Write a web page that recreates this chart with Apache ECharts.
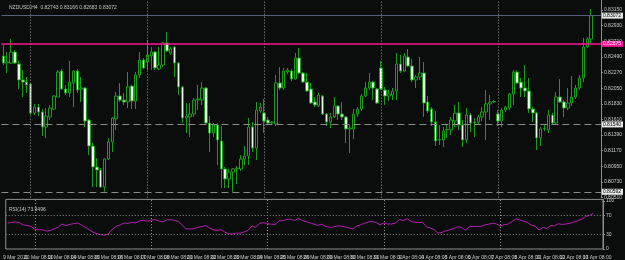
<!DOCTYPE html>
<html>
<head>
<meta charset="utf-8">
<style>
  html, body { margin: 0; padding: 0; background: #0a0d0b; }
  #chart { width: 625px; height: 260px; }
</style>
<script src="https://cdn.jsdelivr.net/npm/echarts@6/dist/echarts.min.js"></script>
</head>
<body>
<div id="chart"></div>
<script>
// NZDUSD H4 candles
const opens = [
  0.82504, 0.82405, 0.82405, 0.82560, 0.82391, 0.82166, 0.82137, 0.82109, 0.81701, 0.81785,
  0.81715, 0.81504, 0.81645, 0.81757, 0.81926, 0.82292, 0.82039, 0.81983, 0.82123, 0.82292,
  0.82039, 0.82053, 0.81602, 0.81236, 0.80941, 0.80898, 0.80659, 0.81053, 0.81293, 0.81617,
  0.81940, 0.81884, 0.81856, 0.82081, 0.81870, 0.82236, 0.82447, 0.82419, 0.82504, 0.82560,
  0.82321, 0.82377, 0.82687, 0.82546, 0.82630, 0.82405, 0.82067, 0.81631, 0.81645, 0.81687,
  0.81884, 0.81884, 0.82053, 0.81560, 0.81419, 0.81532, 0.81307, 0.80913, 0.80772, 0.80870,
  0.80913, 0.80913, 0.81053, 0.81096, 0.81504, 0.81208, 0.81729, 0.81701, 0.81602, 0.81560,
  0.81546, 0.82123, 0.82053, 0.82278, 0.82292, 0.82180, 0.82475, 0.82264, 0.82137, 0.82039,
  0.81856, 0.81800, 0.81940, 0.81687, 0.81574, 0.81645, 0.81800, 0.81687, 0.81645, 0.81476,
  0.81476, 0.81687, 0.81757, 0.81940, 0.82053, 0.82137, 0.82039, 0.82335, 0.82025, 0.81940,
  0.81954, 0.82011, 0.82391, 0.82292, 0.82489, 0.82363, 0.82166, 0.82208, 0.82264, 0.81856,
  0.81757, 0.81574, 0.81321, 0.81321, 0.81462, 0.81462, 0.81588, 0.81701, 0.81532, 0.81321,
  0.81673, 0.81574, 0.81574, 0.81645, 0.81715, 0.81828, 0.81856, 0.81687, 0.81588, 0.81743,
  0.81771, 0.81969, 0.82278, 0.82137, 0.82053, 0.82011, 0.81757, 0.81701, 0.81349, 0.81476,
  0.81462, 0.81673, 0.81560, 0.81926, 0.81856, 0.81771, 0.81842, 0.81926, 0.82053, 0.82194,
  0.82630, 0.82743
];
const closes = [
  0.82405, 0.82419, 0.82560, 0.82405, 0.82166, 0.82137, 0.82095, 0.81701, 0.81785, 0.81715,
  0.81504, 0.81659, 0.81771, 0.81940, 0.82278, 0.82039, 0.81983, 0.82137, 0.82292, 0.82025,
  0.82053, 0.81588, 0.81236, 0.80941, 0.80898, 0.80659, 0.81053, 0.81293, 0.81631, 0.81940,
  0.81884, 0.81856, 0.82067, 0.81870, 0.82236, 0.82447, 0.82335, 0.82518, 0.82560, 0.82335,
  0.82377, 0.82687, 0.82574, 0.82602, 0.82405, 0.82067, 0.81631, 0.81659, 0.81687, 0.81884,
  0.81898, 0.82053, 0.81560, 0.81419, 0.81532, 0.81321, 0.80913, 0.80772, 0.80870, 0.80913,
  0.80927, 0.81053, 0.81096, 0.81504, 0.81208, 0.81743, 0.81785, 0.81588, 0.81560, 0.81574,
  0.82123, 0.82053, 0.82292, 0.82306, 0.82180, 0.82475, 0.82264, 0.82137, 0.82011, 0.81842,
  0.81814, 0.81954, 0.81687, 0.81574, 0.81645, 0.81800, 0.81687, 0.81645, 0.81476, 0.81490,
  0.81687, 0.81757, 0.81940, 0.82053, 0.82137, 0.82053, 0.81842, 0.82039, 0.81940, 0.81969,
  0.82011, 0.82391, 0.82292, 0.82504, 0.82363, 0.82166, 0.82208, 0.82264, 0.81842, 0.81729,
  0.81574, 0.81307, 0.81328, 0.81448, 0.81469, 0.81602, 0.81701, 0.81532, 0.81321, 0.81673,
  0.81560, 0.81567, 0.81645, 0.81715, 0.81828, 0.81856, 0.81863, 0.81588, 0.81743, 0.81785,
  0.81969, 0.82278, 0.82123, 0.82053, 0.82011, 0.81757, 0.81701, 0.81349, 0.81476, 0.81483,
  0.81673, 0.81560, 0.81926, 0.81856, 0.81771, 0.81842, 0.81926, 0.82053, 0.82194, 0.82630,
  0.82743, 0.83072
];
const lows = [
  0.82377, 0.82264, 0.82391, 0.82391, 0.82039, 0.81926, 0.81983, 0.81673, 0.81673, 0.81659,
  0.81377, 0.81349, 0.81602, 0.81743, 0.81926, 0.82025, 0.81954, 0.81926, 0.81785, 0.81983,
  0.81856, 0.81504, 0.81110, 0.80659, 0.80659, 0.80645, 0.80592, 0.81039, 0.81152, 0.81462,
  0.81856, 0.81814, 0.81771, 0.81757, 0.81757, 0.82194, 0.82321, 0.82306, 0.82306, 0.82306,
  0.82306, 0.82349, 0.82560, 0.82518, 0.82208, 0.81954, 0.81560, 0.81419, 0.81363, 0.81645,
  0.81743, 0.81814, 0.81532, 0.81152, 0.81363, 0.80969, 0.80645, 0.80645, 0.80645, 0.80592,
  0.80701, 0.80884, 0.80969, 0.80969, 0.81152, 0.81039, 0.81701, 0.81419, 0.81546, 0.81532,
  0.81518, 0.82025, 0.82025, 0.82250, 0.82152, 0.82166, 0.82250, 0.82123, 0.81997, 0.81828,
  0.81785, 0.81785, 0.81673, 0.81518, 0.81490, 0.81631, 0.81602, 0.81602, 0.81279, 0.81138,
  0.81335, 0.81645, 0.81729, 0.81926, 0.82025, 0.81884, 0.81828, 0.82025, 0.81814, 0.81870,
  0.81884, 0.81884, 0.82264, 0.82278, 0.82349, 0.82137, 0.82053, 0.82166, 0.81645, 0.81701,
  0.81518, 0.81236, 0.81250, 0.81222, 0.81349, 0.81391, 0.81504, 0.81462, 0.81222, 0.81279,
  0.81433, 0.81363, 0.81546, 0.81588, 0.81321, 0.81602, 0.81842, 0.81518, 0.81504, 0.81715,
  0.81743, 0.81814, 0.82109, 0.81926, 0.81926, 0.81701, 0.81574, 0.81180, 0.81236, 0.81448,
  0.81419, 0.81546, 0.81532, 0.81842, 0.81645, 0.81743, 0.81800, 0.81898, 0.82025, 0.82137,
  0.82616, 0.82683
];
const highs = [
  0.82658, 0.82560, 0.82743, 0.82588, 0.82433, 0.82306, 0.82208, 0.82123, 0.81828, 0.81828,
  0.81757, 0.81771, 0.81814, 0.81954, 0.82306, 0.82321, 0.82095, 0.82433, 0.82306, 0.82321,
  0.82208, 0.82067, 0.81617, 0.81279, 0.81067, 0.80927, 0.81067, 0.81349, 0.81645, 0.81997,
  0.82123, 0.81983, 0.82278, 0.82095, 0.82278, 0.82560, 0.82475, 0.82729, 0.82630, 0.82574,
  0.82630, 0.82701, 0.82841, 0.82630, 0.82644, 0.82419, 0.82081, 0.81842, 0.81842, 0.81912,
  0.82095, 0.82137, 0.82067, 0.81659, 0.81560, 0.81560, 0.81518, 0.80941, 0.80913, 0.80927,
  0.80955, 0.81110, 0.81236, 0.81631, 0.81574, 0.81856, 0.81842, 0.81898, 0.81645, 0.81588,
  0.82236, 0.82349, 0.82335, 0.82335, 0.82321, 0.82546, 0.82616, 0.82278, 0.82264, 0.82123,
  0.81926, 0.81983, 0.81954, 0.81701, 0.81701, 0.81926, 0.81814, 0.81856, 0.81659, 0.81532,
  0.81757, 0.81785, 0.81969, 0.82137, 0.82264, 0.82152, 0.82053, 0.82433, 0.82067, 0.82025,
  0.82053, 0.82546, 0.82518, 0.82546, 0.82602, 0.82461, 0.82236, 0.82489, 0.82419, 0.81940,
  0.81785, 0.81729, 0.81532, 0.81504, 0.81546, 0.81645, 0.81814, 0.81856, 0.81602, 0.81771,
  0.81701, 0.81631, 0.81673, 0.81785, 0.82025, 0.81954, 0.81884, 0.81743, 0.81771, 0.81800,
  0.81983, 0.82306, 0.82306, 0.82194, 0.82377, 0.82194, 0.81785, 0.81715, 0.81504, 0.81546,
  0.81743, 0.81701, 0.81997, 0.82180, 0.81884, 0.82053, 0.82222, 0.82095, 0.82236, 0.82757,
  0.82771, 0.83166
];
// RSI(14)
const rsi = [
  54, 55, 56, 55, 50, 49, 47, 41, 40, 40,
  37, 38.5, 42, 45, 52, 48.5, 51, 52.5, 54, 50,
  45, 40, 35, 32, 30, 28.5, 32, 41, 47, 50,
  54, 53, 55.5, 54, 58.5, 60, 57.5, 60, 61, 58,
  56, 60.5, 61, 59.5, 57, 50, 42, 41.5, 42.5, 44.8,
  46.6, 48.5, 44, 40, 38.7, 40, 35, 32, 31, 33,
  33, 35.5, 38.7, 48, 45, 53.5, 54.5, 52.5, 51.5, 51,
  58.5, 59, 61.5, 62, 59, 63.5, 59, 56.5, 54, 51.5,
  49, 51.5, 47, 45, 45.5, 48, 47.5, 46, 43.5, 41.7,
  47.5, 50.5, 53.5, 56, 57.7, 55, 50, 54, 52, 52,
  54, 61, 59, 63, 57, 55.5, 55, 55.5, 45.5, 43.5,
  40, 33, 34.5, 38, 40, 42.5, 46, 45, 39, 46,
  47, 46.6, 47, 49.8, 51.5, 53.5, 52, 48, 50.5, 51.6,
  57, 62.5, 60.5, 58, 55, 49.8, 47, 39.5, 44.8, 42.5,
  48.5, 48, 52.5, 51, 52, 53.5, 56, 59, 61.5, 67.5,
  70, 73.9496
];

const priceTicks = [0.80510, 0.80730, 0.80950, 0.81170, 0.81390, 0.81610, 0.81830,
  0.82050, 0.82270, 0.82490, 0.82710, 0.82930, 0.83150];
const rsiTicks = [0, 30, 70, 100];
const rsiLevels = [30, 70];
const bidPrice = 0.83072;
const magentaLevel = 0.82675;
const dashedLevels = [0.81540, 0.80592];
const separatorBars = [7, 37, 67, 97, 127];
const timeLabels = ['9 Mar 2011', '10 Mar 08:00', '11 Mar 08:00', '14 Mar 08:00', '15 Mar 08:00',
  '16 Mar 08:00', '17 Mar 08:00', '18 Mar 08:00', '21 Mar 08:00', '22 Mar 08:00', '23 Mar 08:00',
  '24 Mar 08:00', '25 Mar 08:00', '28 Mar 08:00', '29 Mar 08:00', '30 Mar 08:00', '31 Mar 08:00',
  '1 Apr 08:00', '4 Apr 08:00', '5 Apr 08:00', '6 Apr 08:00', '7 Apr 08:00', '8 Apr 08:00',
  '11 Apr 08:00', '12 Apr 08:00', '13 Apr 08:00'];

const emptyBars = 2; // MT4 chart shift on the right
const categories = opens.map((_, i) => i);
for (let k = 0; k < emptyBars; k++) categories.push(opens.length + k);

const candles = opens.map((o, i) => [o, closes[i], lows[i], highs[i]]);

const FONT = 'Liberation Sans';
const AXIS = '#8e8e8e';
const TXT = '#c8c8c8';
const GREEN = '#1c9a1c';

function levelLabel(bg, fg) {
  return {
    show: true, position: 'end', distance: 1,
    formatter: p => p.value.toFixed(5),
    fontSize: 5, fontFamily: FONT, color: fg,
    backgroundColor: bg, padding: [1, 2, 0, 1]
  };
}
const dotted = { color: '#9a9a9a', type: [1, 2], width: 1 };

const chart = echarts.init(document.getElementById('chart'), null, { renderer: 'canvas' });
chart.setOption({
  backgroundColor: '#0a0d0b',
  animation: false,
  title: [
    { text: 'NZDUSD,H4  0.82743 0.83166 0.82683 0.83072', left: 4, top: 0,
      textStyle: { fontSize: 5, fontWeight: 'normal', color: TXT, fontFamily: FONT } },
    { text: 'RSI(14) 73.9496', left: 4, top: 202,
      textStyle: { fontSize: 5, fontWeight: 'normal', color: TXT, fontFamily: FONT } }
  ],
  grid: [
    { left: 1.4, right: 22, top: 0, bottom: 62.4 },
    { left: 1.4, right: 22, top: 199.4, bottom: 4.7, show: true,
      borderColor: AXIS, borderWidth: 1, backgroundColor: 'transparent' }
  ],
  xAxis: [
    { type: 'category', gridIndex: 0, data: categories, boundaryGap: true, show: false },
    { type: 'category', gridIndex: 1, data: categories, boundaryGap: true,
      axisLine: { show: false }, axisTick: { show: false }, splitLine: { show: false },
      axisLabel: {
        interval: 0, margin: 6, fontSize: 5, fontFamily: FONT, color: TXT,
        formatter: (v, i) => (i % 6 === 2 ? (timeLabels[Math.floor(i / 6)] || '') : '')
      } }
  ],
  yAxis: [
    { type: 'value', gridIndex: 0, position: 'right', min: 0.80510, max: 0.83292,
      axisLine: { show: true, lineStyle: { color: AXIS } },
      axisTick: { show: true, length: 2, lineStyle: { color: AXIS }, customValues: priceTicks },
      axisLabel: { fontSize: 5, fontFamily: FONT, color: TXT, margin: 3,
        customValues: priceTicks, formatter: v => v.toFixed(5) },
      splitLine: { show: false } },
    { type: 'value', gridIndex: 1, position: 'right', min: 0, max: 103,
      axisLine: { show: true, lineStyle: { color: AXIS } },
      axisTick: { show: true, length: 2, lineStyle: { color: AXIS }, customValues: rsiTicks },
      axisLabel: { fontSize: 5, fontFamily: FONT, color: TXT, margin: 3, customValues: rsiTicks },
      splitLine: { show: false } }
  ],
  series: [
    {
      type: 'candlestick', xAxisIndex: 0, yAxisIndex: 0,
      data: candles, barWidth: 3,
      itemStyle: {
        color: '#0a0d0b', color0: '#e4ffe4',
        borderColor: GREEN, borderColor0: GREEN, borderWidth: 1
      }
    },
    {
      // carrier for the chart's horizontal levels and week separators
      name: 'levels', type: 'line', xAxisIndex: 0, yAxisIndex: 0, data: [],
      markLine: {
        silent: true, symbol: 'none', animation: false, precision: 5,
        data: [
          ...separatorBars.map(b => ({ xAxis: b, label: { show: false }, lineStyle: dotted })),
          { yAxis: bidPrice, lineStyle: { color: '#56607a', type: 'solid', width: 1 },
            label: levelLabel('#e8e8e8', '#000') },
          ...dashedLevels.map(v => ({ yAxis: v,
            lineStyle: { color: '#8a8a8a', type: [7, 4], width: 1 },
            label: levelLabel('#e8e8e8', '#000') })),
          { yAxis: magentaLevel, lineStyle: { color: '#ff1493', type: 'solid', width: 1.5 },
            label: levelLabel('#ff1493', '#ffffff') }
        ]
      }
    },
    {
      type: 'line', xAxisIndex: 1, yAxisIndex: 1, data: rsi,
      symbol: 'none', lineStyle: { color: '#b41cb4', width: 1 },
      markLine: {
        silent: true, symbol: 'none', animation: false, label: { show: false },
        data: [
          ...separatorBars.map(b => ({ xAxis: b, lineStyle: dotted })),
          ...rsiLevels.map(v => ({ yAxis: v,
            lineStyle: { color: '#8a8a8a', type: [1, 2], width: 1 } }))
        ]
      }
    }
  ]
});
</script>
</body>
</html>
